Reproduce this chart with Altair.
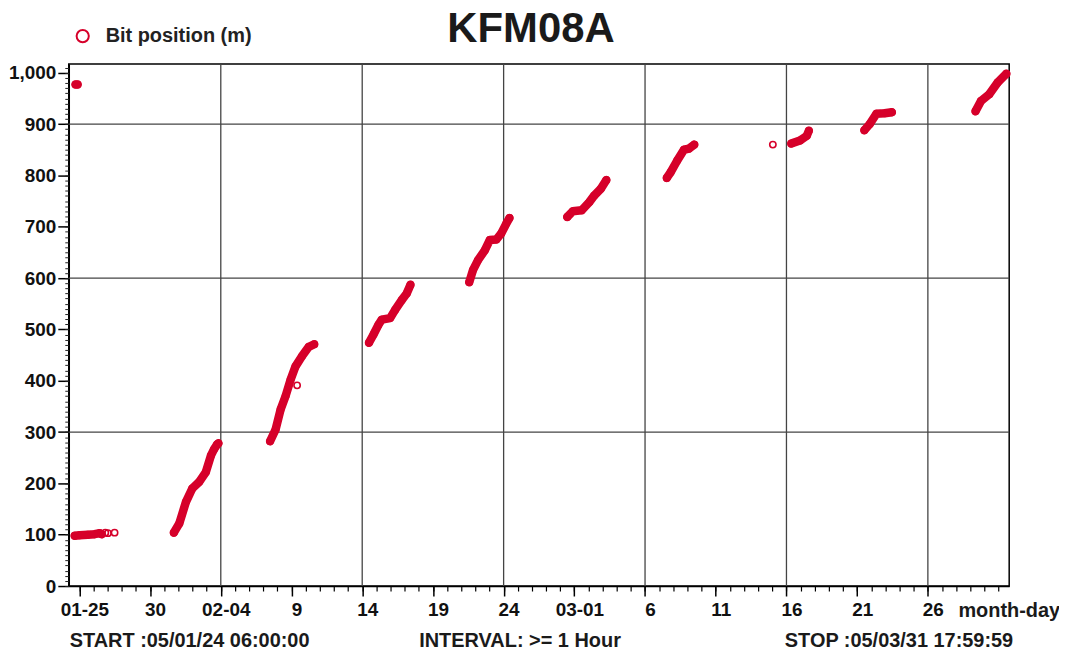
import json
import altair as alt
import pandas as pd

RED = "#d6002a"
FONT = "Liberation Sans"

# ---- data ----
run_id = (["r01"] * 2 + ["r02"] * 6 + ["r03"] * 10 + ["r04"] * 9 + ["r05"] * 9 +
          ["r06"] * 9 + ["r07"] * 7 + ["r08"] * 6 + ["r09"] * 4 + ["r10"] * 5 + ["r11"] * 5)

time_stamps = [
    "2005-01-24T17:30:00Z", "2005-01-24T21:00:00Z",
    "2005-01-24T16:00:00Z", "2005-01-25T00:35:00Z", "2005-01-25T14:05:00Z",
    "2005-01-26T01:55:00Z", "2005-01-26T10:25:00Z", "2005-01-26T14:00:00Z",
    "2005-01-31T16:20:00Z", "2005-02-01T01:35:00Z", "2005-02-01T12:55:00Z",
    "2005-02-01T23:35:00Z", "2005-02-02T11:25:00Z", "2005-02-02T22:40:00Z",
    "2005-02-03T07:10:00Z", "2005-02-03T12:50:00Z", "2005-02-03T17:50:00Z",
    "2005-02-03T20:00:00Z",
    "2005-02-07T11:40:00Z", "2005-02-07T21:00:00Z", "2005-02-08T05:30:00Z",
    "2005-02-08T13:55:00Z", "2005-02-08T22:25:00Z", "2005-02-09T06:50:00Z",
    "2005-02-09T18:00:00Z", "2005-02-10T05:20:00Z", "2005-02-10T14:35:00Z",
    "2005-02-14T11:30:00Z", "2005-02-14T19:10:00Z", "2005-02-15T03:35:00Z",
    "2005-02-15T09:10:00Z", "2005-02-15T23:25:00Z", "2005-02-16T07:50:00Z",
    "2005-02-16T19:00:00Z", "2005-02-17T03:30:00Z", "2005-02-17T09:55:00Z",
    "2005-02-21T13:40:00Z", "2005-02-21T20:10:00Z", "2005-02-22T04:35:00Z",
    "2005-02-22T16:00:00Z", "2005-02-23T00:25:00Z", "2005-02-23T11:35:00Z",
    "2005-02-23T20:00:00Z", "2005-02-24T04:30:00Z", "2005-02-24T09:55:00Z",
    "2005-02-28T11:55:00Z", "2005-02-28T21:10:00Z", "2005-03-01T12:25:00Z",
    "2005-03-02T01:25:00Z", "2005-03-02T09:55:00Z", "2005-03-02T21:00:00Z",
    "2005-03-03T06:20:00Z",
    "2005-03-07T12:55:00Z", "2005-03-07T19:20:00Z", "2005-03-08T06:40:00Z",
    "2005-03-08T18:00:00Z", "2005-03-09T02:25:00Z", "2005-03-09T11:35:00Z",
    "2005-03-16T08:10:00Z", "2005-03-16T23:00:00Z", "2005-03-17T10:25:00Z",
    "2005-03-17T14:00:00Z",
    "2005-03-21T12:10:00Z", "2005-03-21T21:25:00Z", "2005-03-22T08:40:00Z",
    "2005-03-22T22:40:00Z", "2005-03-23T10:55:00Z",
    "2005-03-29T08:50:00Z", "2005-03-29T18:05:00Z", "2005-03-30T08:10:00Z",
    "2005-03-30T22:25:00Z", "2005-03-31T13:10:00Z",
]

bit_position = [
    977, 977,
    98, 99, 100, 101, 103, 101,
    104, 122, 164, 190, 203, 222, 254, 267, 276, 278,
    282, 305, 344, 370, 402, 428, 448, 466, 471,
    474, 490, 509, 519, 522, 538, 557, 570, 587,
    592, 616, 635, 654, 674, 675, 687, 706, 717,
    719, 730, 732, 748, 761, 774, 791,
    795, 806, 829, 850, 852, 860,
    862, 868, 877, 887,
    888, 900, 920, 921, 923,
    925, 945, 958, 981, 998,
]

single_times = ["2005-01-26T20:00:00Z", "2005-01-27T00:25:00Z", "2005-01-27T11:45:00Z",
                "2005-02-09T09:30:00Z", "2005-03-15T00:55:00Z"]
single_values = [104, 103, 104, 391, 860]

series_name = "Bit position (m)"
title_text = "KFM08A"
footer_texts = ["START :05/01/24 06:00:00", "INTERVAL: >= 1 Hour", "STOP :05/03/31 17:59:59"]
x_unit_text = "month-day"

major_tick_dates = ["2005-01-25", "2005-01-30", "2005-02-04", "2005-02-09", "2005-02-14",
                    "2005-02-19", "2005-02-24", "2005-03-01", "2005-03-06", "2005-03-11",
                    "2005-03-16", "2005-03-21", "2005-03-26"]
major_tick_labels = ["01-25", "30", "02-04", "9", "14", "19", "24", "03-01", "6", "11",
                     "16", "21", "26"]
grid_dates = ["2005-02-04", "2005-02-14", "2005-02-24", "2005-03-06", "2005-03-16", "2005-03-26"]
grid_values = [300, 600, 900]
x_start, x_stop = "2005-01-24T06:00:00", "2005-03-31T18:00:00"


def ms(s):
    return int(pd.Timestamp(s, tz="UTC").value // 10**6)


major_ms = [ms(d) for d in major_tick_dates]
minor_ms = [ms(d) for d in pd.date_range("2005-01-25", "2005-03-31", freq="D").strftime("%Y-%m-%d")]

x_scale = alt.Scale(type="utc", domain=[ms(x_start), ms(x_stop)], nice=False)
y_scale = alt.Scale(domain=[0, 1017], nice=False)

label_expr = (f"{json.dumps(major_tick_labels)}"
              f"[indexof({json.dumps(major_ms)}, time(datum.value))]")

x_major_axis = alt.Axis(values=major_ms, labelExpr=label_expr, orient="bottom", title=None,
                        grid=False, domain=True, domainColor="black", domainWidth=1.5,
                        ticks=True, tickSize=10, tickWidth=1.5, tickColor="black",
                        labelFont=FONT, labelFontSize=19, labelFontWeight="bold",
                        labelColor="#111", labelPadding=5, labelOffset=5, labelAngle=0,
                        labelFlush=False, labelOverlap=False)
x_minor_axis = alt.Axis(values=minor_ms, orient="bottom", title=None, grid=False,
                        domain=False, labels=False, ticks=True, tickSize=5,
                        tickWidth=1.2, tickColor="black")
y_major_axis = alt.Axis(values=list(range(0, 1001, 100)), format=",d", orient="left",
                        title=None, grid=False, domain=True, domainColor="black",
                        domainWidth=1.5, ticks=True, tickSize=11, tickWidth=1.5,
                        tickColor="black", labelFont=FONT, labelFontSize=19,
                        labelFontWeight="bold", labelColor="#111", labelPadding=2)
y_minor_axis = alt.Axis(values=list(range(0, 1011, 10)), orient="left", title=None,
                        grid=False, domain=False, labels=False, ticks=True, tickSize=4,
                        tickWidth=1, tickColor="#222")

df = pd.DataFrame({"time": time_stamps, "value": bit_position, "run": run_id})
pts = pd.DataFrame({"time": time_stamps + single_times,
                    "value": bit_position + single_values,
                    "series": series_name})
gx = pd.DataFrame({"time": [d + "T00:00:00Z" for d in grid_dates]})
gy = pd.DataFrame({"value": grid_values})

grid_x = alt.Chart(gx).mark_rule(color="#444", strokeWidth=1.3).encode(
    x=alt.X("time:T", scale=x_scale, axis=x_major_axis))
grid_y = alt.Chart(gy).mark_rule(color="#444", strokeWidth=1.3).encode(
    y=alt.Y("value:Q", scale=y_scale, axis=y_major_axis))

band = alt.Chart(df).mark_line(color=RED, strokeWidth=8.5, strokeCap="round",
                               strokeJoin="round").encode(
    x=alt.X("time:T", scale=x_scale, axis=x_minor_axis),
    y=alt.Y("value:Q", scale=y_scale, axis=y_minor_axis),
    detail="run:N")

points = alt.Chart(pts).mark_point(shape="circle", filled=False, size=40, strokeWidth=1.6,
                                   opacity=1).encode(
    x=alt.X("time:T", scale=x_scale, axis=None),
    y=alt.Y("value:Q", scale=y_scale, axis=None),
    color=alt.Color("series:N", scale=alt.Scale(range=[RED]),
                    legend=alt.Legend(title=None, orient="none", legendX=4, legendY=-38,
                                      labelFont=FONT, labelFontSize=20,
                                      labelFontWeight="bold", labelColor="#222",
                                      symbolType="circle", symbolSize=150,
                                      symbolStrokeWidth=2, labelOffset=13)))


def text_layer(txt, x, y, size, align="left"):
    return alt.Chart(pd.DataFrame({"label": [txt]})).mark_text(
        font=FONT, fontSize=size, fontWeight="bold", color="#1a1a1a", align=align,
        baseline="alphabetic").encode(x=alt.value(x), y=alt.value(y), text="label:N")


title_layer = text_layer(title_text, 464, -22, 42, "center")
start_layer = text_layer(footer_texts[0], 1, 585, 20, "left")
interval_layer = text_layer(footer_texts[1], 453, 585, 20, "center")
stop_layer = text_layer(footer_texts[2], 948, 585, 20, "right")
unit_layer = text_layer(x_unit_text, 893, 555, 20, "left")

chart = alt.layer(grid_x, grid_y, band, points, title_layer, start_layer, interval_layer,
                  stop_layer, unit_layer).resolve_axis(
    x="independent", y="independent").properties(
    width=944, height=524,
    autosize=alt.AutoSizeParams(type="none"),
    padding={"left": 61, "top": 55, "right": 50, "bottom": 66},
).configure_view(stroke="black", strokeWidth=1.5)

chart.save("out.html", embed_options={"renderer": "svg", "actions": False})
